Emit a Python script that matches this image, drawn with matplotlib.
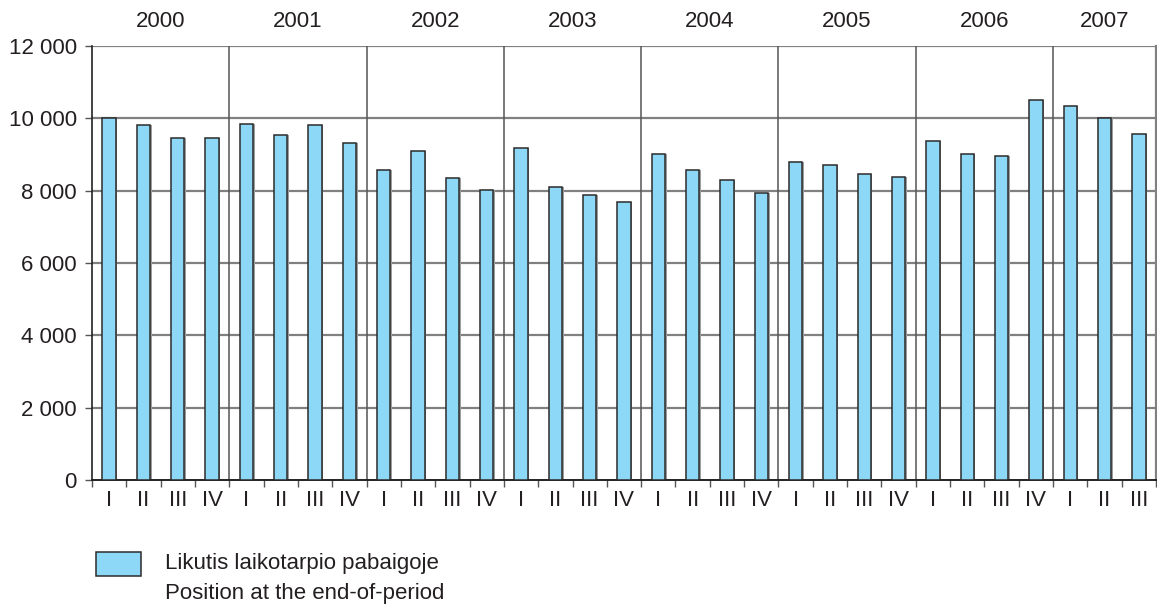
import matplotlib
matplotlib.use("Agg")
import matplotlib.pyplot as plt
import numpy as np
from matplotlib.patches import Rectangle

# =========================================================
# DATA
# =========================================================
years = ["2000", "2001", "2002", "2003", "2004", "2005", "2006", "2007"]
quarters_per_year = [4, 4, 4, 4, 4, 4, 4, 3]
quarter_labels = ["I", "II", "III", "IV"]

values = [
    10000, 9824, 9452, 9452,     # 2000
    9833, 9545, 9805, 9313,      # 2001
    8580, 9090, 8339, 8032,      # 2002
    9174, 8107, 7893, 7698,      # 2003
    9026, 8561, 8283, 7930,      # 2004
    8803, 8719, 8450, 8367,      # 2005
    9387, 9016, 8970, 10510,     # 2006
    10343, 10019, 9564,          # 2007
]

legend_lines = ["Likutis laikotarpio pabaigoje", "Position at the end-of-period"]

y_ticks = [0, 2000, 4000, 6000, 8000, 10000, 12000]

# =========================================================
# STYLE
# =========================================================
plt.rcParams['font.family'] = ['Liberation Sans', 'DejaVu Sans']
fs = 16
text_col = "#231f20"
bar_col = "#8ed8f7"
grid_col = "#808080"

x_labels = []
for n in quarters_per_year:
    x_labels += quarter_labels[:n]
x = np.arange(len(values))

fig = plt.figure(figsize=(11.57, 6.10), dpi=100)
ax = fig.add_axes([92 / 1157, 1 - 480 / 610, (1156 - 92) / 1157, (480 - 46) / 610])

# sombra + barras
ax.bar(x + 0.045, values, width=0.39, color="#9c9c9c", zorder=2, linewidth=0)
ax.bar(x, values, width=0.39, color=bar_col, edgecolor="#2b2b2b", linewidth=1.1, zorder=3)

ax.set_xlim(-0.5, len(values) - 0.5)
ax.set_ylim(0, 12000)

# grid horizontal
for yv in y_ticks[1:]:
    ax.axhline(yv, color=grid_col, linewidth=1.6, zorder=1)

# separadores de años
pos = -0.5
centers = []
for n in quarters_per_year:
    centers.append(pos + n / 2)
    pos += n
    if pos < len(values) - 0.5:
        ax.axvline(pos, color="#555555", linewidth=1.1, zorder=1)

for yr, c in zip(years, centers):
    ax.text(c, 12000 + 400, yr, ha="center", va="bottom", fontsize=fs, color=text_col)

ax.set_yticks(y_ticks)
ax.set_yticklabels([f"{v:,}".replace(",", " ") for v in y_ticks], fontsize=fs, color=text_col)
ax.tick_params(axis="y", length=5, width=1, color="#555555", pad=6)

ax.set_xticks(x)
ax.set_xticklabels(x_labels, fontsize=fs, color=text_col)
ax.tick_params(axis="x", which="major", length=0, pad=7)
ax.set_xticks(np.arange(-0.5, len(values), 1.0), minor=True)
ax.tick_params(axis="x", which="minor", length=5, width=1, color="#555555", direction="out")

ax.spines["top"].set_visible(False)
ax.spines["right"].set_color(grid_col)
ax.spines["right"].set_linewidth(1.6)
ax.spines["left"].set_color("#222222")
ax.spines["bottom"].set_color("#222222")
ax.spines["left"].set_linewidth(1.2)
ax.spines["bottom"].set_linewidth(1.4)

# leyenda manual
fig.patches.append(Rectangle((96 / 1157, 1 - 576 / 610), 45 / 1157, 24 / 610,
                             transform=fig.transFigure, facecolor=bar_col,
                             edgecolor="#2b2b2b", linewidth=1.1))
fig.text(165 / 1157, 1 - 564 / 610, legend_lines[0], fontsize=fs, color=text_col, va="center")
fig.text(165 / 1157, 1 - 594 / 610, legend_lines[1], fontsize=fs, color=text_col, va="center")

plt.savefig("out.png", dpi=100)
